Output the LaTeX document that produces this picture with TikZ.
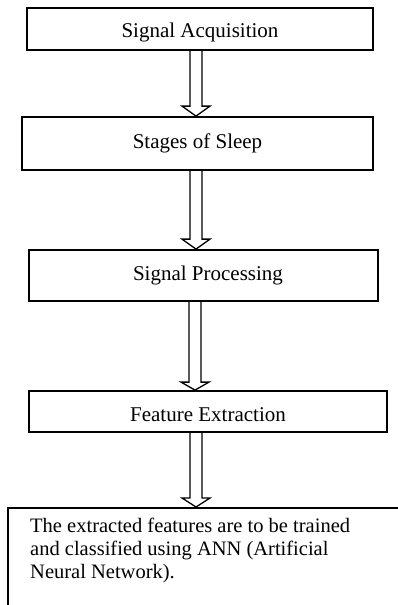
\documentclass[tikz,border=0pt]{standalone}
\usepackage{fontspec}
\setmainfont{Liberation Serif}
\usetikzlibrary{calc}
\newcommand{\hollowarrow}[4]{%
  \draw[hollow] let \p1=(#1.south), \p2=(#2.north) in
    ({#3pt-6pt},\y1) -- ({#3pt-6pt},{\y2+#4pt}) -- ({#3pt-14pt},{\y2+#4pt}) --
    ({#3pt},\y2) -- ({#3pt+14pt},{\y2+#4pt}) -- ({#3pt+6pt},{\y2+#4pt}) -- ({#3pt+6pt},\y1);}
\begin{document}
\begin{tikzpicture}[x=1pt,y=-1pt,
  stepbox/.style={draw,line width=1.8pt,inner sep=0pt,text depth=5pt,font=\fontsize{21}{23}\selectfont},
  hollow/.style={draw,line width=1.3pt,line join=miter}]
\useasboundingbox (0,0) rectangle (398,605);
\node[stepbox,minimum width=346pt,minimum height=42pt,text height=21pt] (b1) at (200,29) {Signal Acquisition};
\node[stepbox,minimum width=351pt,minimum height=53pt,text height=14pt] (b2) at (197.5,143.5) {Stages of Sleep};
\node[stepbox,minimum width=349pt,minimum height=51pt,text height=14pt] (b3) at (203.5,275.5) {\hspace*{9pt}Signal Processing};
\node[stepbox,minimum width=358pt,minimum height=41pt,text height=24pt] (b4) at (208,411.5) {Feature Extraction};
\node[stepbox,anchor=north west,minimum width=420pt,minimum height=130pt] (b5) at (7,507) {};
\node[anchor=north west,align=left,inner sep=0pt,font=\fontsize{20.5}{23}\selectfont] (t5) at (30,518)
  {The extracted features are to be trained\\and classified using ANN (Artificial\\Neural Network).};
\hollowarrow{b1}{b2}{196}{10}
\hollowarrow{b2}{b3}{196}{10}
\hollowarrow{b3}{b4}{195}{8}
\hollowarrow{b4}{b5}{196}{9}
\end{tikzpicture}
\end{document}
